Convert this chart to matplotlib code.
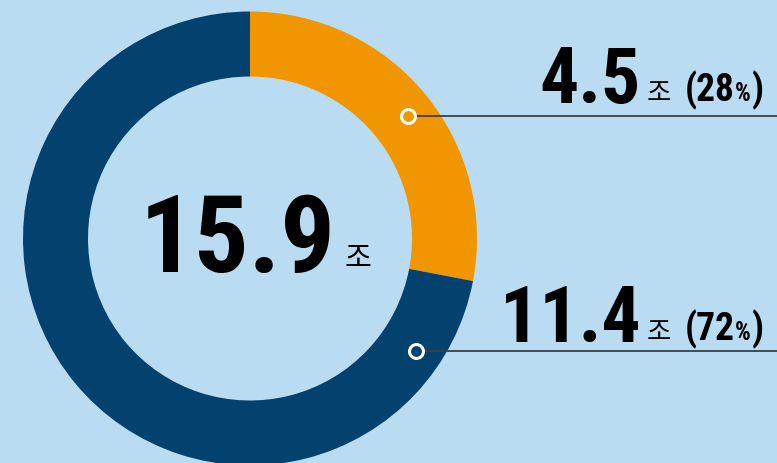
import numpy as np
import matplotlib
matplotlib.use('Agg')
import matplotlib.pyplot as plt

W, H = 777, 464

# 데이터
values = [4.5, 11.4]
value_labels = ['4.5', '11.4']
shares = [28, 72]
total_label = '15.9'
unit = '조'
colors = ['#f29600', '#03416f']
marker_deg = [37.8, -34.3]   # 링 위 점 위치 (각도)

bg = '#badcf3'
num_font = ['Roboto Condensed', 'DejaVu Sans']
kr_font = ['Noto Sans CJK KR', 'DejaVu Sans']

fig = plt.figure(figsize=(W / 100, H / 100), dpi=100)
fig.patch.set_facecolor(bg)
ax = fig.add_axes([0, 0, 1, 1])
ax.set_facecolor(bg)

# 도넛 (비율로 그림)
cx, cy, R, ring = 250, 224.5, 227, 65
ax.pie(shares, colors=colors, startangle=90, counterclock=False,
       radius=R, center=(cx, cy),
       wedgeprops=dict(width=ring, linewidth=0))
ax.set_xlim(0, W)
ax.set_ylim(0, H)
ax.set_aspect('equal')
ax.axis('off')

renderer = fig.canvas.get_renderer()


def chain(x, y, parts):
    # 글자 조각을 왼쪽부터 차례로 붙이기
    for s, gap, kw in parts:
        t = ax.text(x, y, s, ha='left', va='baseline', **kw)
        bb = t.get_window_extent(renderer)
        x = bb.x1 + gap
    return x


# 가운데 합계
ax.text(238, 192, total_label, ha='center', va='baseline', fontsize=78,
        fontweight='bold', family=num_font, color='black')
ax.text(345, 197, unit, ha='left', va='baseline', fontsize=21,
        family=kr_font, color='black')

# 라벨과 지시선
baselines = [361, 122]
r_mark = R - ring / 2 + 6
for i in range(len(values)):
    a = np.deg2rad(marker_deg[i])
    mx = cx + r_mark * np.cos(a)
    my = cy + r_mark * np.sin(a)
    ax.plot([mx, W], [my, my], color='#3a3f44', lw=1.3, zorder=3)
    ax.plot(mx, my, 'o', ms=10, mfc=colors[i], mec='white', mew=2.2, zorder=4)

    yb = baselines[i]
    ax.text(641, yb, value_labels[i], ha='right', va='baseline', fontsize=56,
            fontweight='bold', family=num_font, color='black')
    ax.text(647, yb + 2, unit, ha='left', va='baseline', fontsize=19,
            family=kr_font, color='black')
    chain(685, yb + 2, [
        ('(%d' % shares[i], 0, dict(fontsize=27, fontweight='bold', family=num_font)),
        ('%', 0, dict(fontsize=18, fontweight='bold', family=num_font)),
        (')', 0, dict(fontsize=27, fontweight='bold', family=num_font)),
    ])

fig.savefig('out.png', dpi=100, facecolor=bg)
